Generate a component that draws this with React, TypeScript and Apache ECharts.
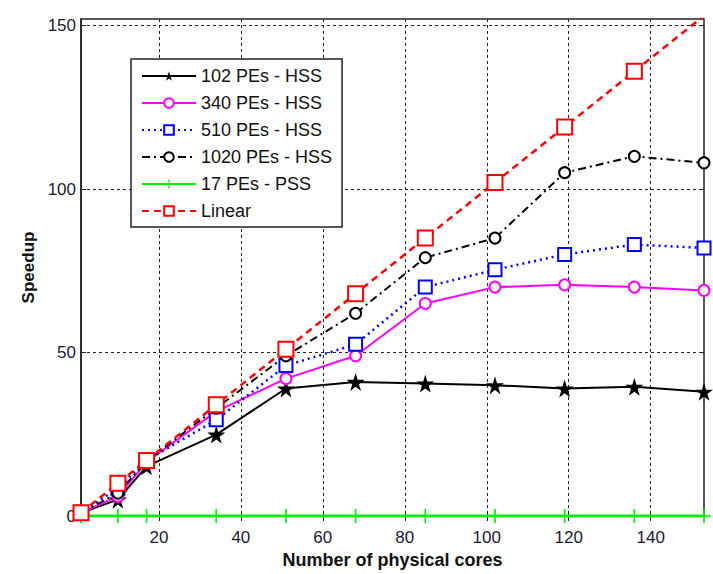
import React, { useEffect, useRef } from "react";
import * as echarts from "echarts";

const cores = [1, 10, 17, 34, 51, 68, 85, 102, 119, 136, 153];
const hss102 = [1, 5, 15.2, 24.9, 39, 41, 40.5, 40, 39, 39.5, 38];
const hss340 = [1, 6, 16.5, 32, 42, 49, 65, 70, 70.7, 70, 69];
const hss510 = [1, 8.5, 17, 29.4, 46, 52.5, 70, 75.3, 80, 83, 82];
const hss1020 = [1, 7, 16.8, 33, 49, 62, 79, 85, 105, 110, 108];
const pss17 = [0, 0, 0, 0, 0, 0, 0, 0, 0, 0, 0];
const linear = [1, 10, 17, 34, 51, 68, 85, 102, 119, 136, 153];

const xTicks = [20, 40, 60, 80, 100, 120, 140];
const yTicks = [0, 50, 100, 150];

const names = [
  "102 PEs - HSS",
  "340 PEs - HSS",
  "510 PEs - HSS",
  "1020 PEs - HSS",
  "17 PEs - PSS",
  "Linear",
];

const STAR =
  "path://M50,0 L61,35 L98,35 L68,57 L79,91 L50,70 L21,91 L32,57 L2,35 L39,35 Z";
const PLUS =
  "path://M44,0 L56,0 L56,44 L100,44 L100,56 L56,56 L56,100 L44,100 L44,56 L0,56 L0,44 L44,44 Z";

const pairs = (ys: number[]) => cores.map((x, i) => [x, ys[i]]);

export default function App() {
  const ref = useRef<HTMLDivElement>(null);
  useEffect(() => {
    if (!ref.current) return;
    const chart = echarts.init(ref.current, undefined, { renderer: "svg" });
    const font = "'Liberation Sans', Arial, sans-serif";
    const gridLine = { show: true, lineStyle: { color: "#222", type: [3, 3], width: 1 } };
    const mirrorAxis = (ticks: number[]) => ({
      axisLine: { show: false },
      axisTick: { show: true, inside: true, length: 5, customValues: ticks, lineStyle: { color: "#222" } },
      axisLabel: { show: false },
      splitLine: { show: false },
    });
    chart.setOption({
      animation: false,
      backgroundColor: "#fff",
      textStyle: { fontFamily: font },
      grid: {
        left: 81,
        right: 9,
        top: 19,
        bottom: 50,
        show: true,
        borderColor: "#222",
        borderWidth: 1.5,
        backgroundColor: "#fff",
      },
      legend: {
        orient: "vertical",
        left: 131,
        top: 59,
        padding: [8, 10, 7, 10],
        itemWidth: 54,
        itemHeight: 12,
        itemGap: 9,
        backgroundColor: "#fff",
        borderColor: "#222",
        borderWidth: 1.5,
        borderRadius: 0,
        textStyle: { fontSize: 18, color: "#111", fontFamily: font },
        data: names,
      },
      xAxis: [
        {
          type: "value",
          min: 1,
          max: 153,
          name: "Number of physical cores",
          nameLocation: "middle",
          nameGap: 35,
          nameTextStyle: { fontSize: 18, fontWeight: "bold", color: "#111" },
          axisLine: { show: true, onZero: false, lineStyle: { color: "#222", width: 1.5 } },
          axisTick: { show: true, inside: true, length: 5, customValues: xTicks, lineStyle: { color: "#222" } },
          axisLabel: { customValues: xTicks, fontSize: 17, color: "#1a1a33", margin: 13 },
          splitLine: gridLine,
        },
        { type: "value", position: "top", min: 1, max: 153, ...mirrorAxis(xTicks) },
      ],
      yAxis: [
        {
          type: "value",
          min: 0,
          max: 152,
          name: "Speedup",
          nameLocation: "middle",
          nameGap: 44,
          nameTextStyle: { fontSize: 17, fontWeight: "bold", color: "#111" },
          axisLine: { show: true, lineStyle: { color: "#222", width: 1.5 } },
          axisTick: { show: true, inside: true, length: 5, customValues: yTicks, lineStyle: { color: "#222" } },
          axisLabel: { customValues: yTicks, fontSize: 17, color: "#1a1a33", margin: 5 },
          splitLine: gridLine,
        },
        { type: "value", position: "right", min: 0, max: 152, ...mirrorAxis(yTicks) },
      ],
      series: [
        {
          name: names[0],
          type: "line",
          data: pairs(hss102),
          symbol: STAR,
          symbolSize: 18,
          itemStyle: { color: "#000" },
          lineStyle: { color: "#000", width: 2 },
        },
        {
          name: names[1],
          type: "line",
          data: pairs(hss340),
          symbol: "emptyCircle",
          symbolSize: 11,
          itemStyle: { color: "#ff00ff", borderWidth: 2 },
          lineStyle: { color: "#ff00ff", width: 2 },
        },
        {
          name: names[2],
          type: "line",
          data: pairs(hss510),
          symbol: "emptyRect",
          symbolSize: 13,
          itemStyle: { color: "#0000ff", borderWidth: 2 },
          lineStyle: { color: "#0000ff", width: 2.5, type: [2, 4] },
        },
        {
          name: names[3],
          type: "line",
          data: pairs(hss1020),
          symbol: "emptyCircle",
          symbolSize: 11,
          itemStyle: { color: "#000", borderWidth: 1.8 },
          lineStyle: { color: "#000", width: 2, type: [8, 4, 2, 4] },
        },
        {
          name: names[4],
          type: "line",
          data: pairs(pss17),
          symbol: PLUS,
          symbolSize: 14,
          itemStyle: { color: "#00ee00" },
          lineStyle: { color: "#00ee00", width: 3 },
        },
        {
          name: names[5],
          type: "line",
          data: pairs(linear),
          symbol: "emptyRect",
          symbolSize: 15,
          itemStyle: { color: "#ff0000", borderWidth: 2.2 },
          lineStyle: { color: "#ff0000", width: 2.5, type: [7, 5] },
        },
      ],
    });
    return () => chart.dispose();
  }, []);
  return (
    <div
      ref={ref}
      style={{ position: "fixed", left: 0, top: 0, width: 713, height: 574 }}
    />
  );
}
